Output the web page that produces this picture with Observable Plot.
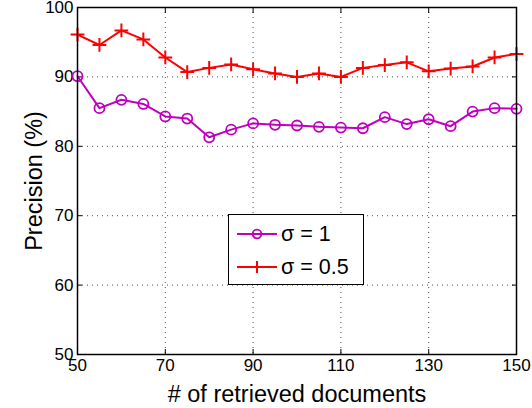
<!DOCTYPE html>
<html>
<head>
<meta charset="utf-8">
<script src="https://cdn.jsdelivr.net/npm/d3@7"></script>
<script src="https://cdn.jsdelivr.net/npm/@observablehq/plot@0.6"></script>
<style>
  html, body { margin: 0; padding: 0; background: #fff; }
  #wrap { position: relative; width: 532px; height: 408px; font-family: "Liberation Sans", Arial, sans-serif; }
  #legend { position: absolute; left: 228px; top: 214px; width: 136px; height: 71px; border: 1.5px solid #000; background: #fff; box-sizing: border-box; }
  .row { position: absolute; left: 0; height: 30px; display: flex; align-items: center; }
  .row span { font-size: 21.5px; color: #000; margin-left: 3px; white-space: nowrap; }
</style>
</head>
<body>
<div id="wrap"></div>
<script>
const docs = [50, 55, 60, 65, 70, 75, 80, 85, 90, 95, 100, 105, 110, 115, 120, 125, 130, 135, 140, 145, 150];
const sigma1 = [90.1, 85.5, 86.7, 86.1, 84.3, 84.0, 81.3, 82.4, 83.3, 83.1, 83.0, 82.8, 82.7, 82.6, 84.2, 83.2, 83.9, 82.9, 85.0, 85.5, 85.4];
const sigma05 = [96.1, 94.6, 96.7, 95.4, 92.8, 90.7, 91.3, 91.8, 91.1, 90.5, 90.0, 90.5, 90.0, 91.3, 91.7, 92.1, 90.8, 91.2, 91.5, 92.8, 93.3];
const xTicks = [50, 70, 90, 110, 130, 150];
const yTicks = [50, 60, 70, 80, 90, 100];
const seriesNames = ["σ = 1", "σ = 0.5"];
const colors = ["#bf00bf", "#ff0000"];

const d1 = docs.map((x, i) => ({x, y: sigma1[i]}));
const d2 = docs.map((x, i) => ({x, y: sigma05[i]}));

const chart = Plot.plot({
  width: 532,
  height: 408,
  marginLeft: 77,
  marginRight: 16,
  marginTop: 7,
  marginBottom: 54,
  style: {fontFamily: "'Liberation Sans', Arial, sans-serif", fontSize: "17px", color: "#000", background: "#fff"},
  x: {domain: [50, 150], ticks: xTicks},
  y: {domain: [50, 100], ticks: yTicks},
  marks: [
    Plot.gridX(xTicks.slice(1, -1), {stroke: "#000", strokeOpacity: 0.7, strokeDasharray: "1,4", strokeWidth: 1}),
    Plot.gridY(yTicks.slice(1, -1), {stroke: "#000", strokeOpacity: 0.7, strokeDasharray: "1,4", strokeWidth: 1}),
    Plot.axisX(xTicks, {anchor: "bottom", tickSize: 0, tickPadding: 4, fontSize: 17, label: "# of retrieved documents", labelAnchor: "center", labelArrow: "none", labelOffset: 47}),
    Plot.axisX(xTicks, {anchor: "bottom", tickSize: -5, text: null, label: null}),
    Plot.axisX(xTicks, {anchor: "top", tickSize: -5, text: null, label: null}),
    Plot.axisY(yTicks, {anchor: "left", tickSize: 0, tickPadding: 4, fontSize: 17, label: "Precision (%)", labelAnchor: "center", labelArrow: "none", labelOffset: 52}),
    Plot.axisY(yTicks, {anchor: "left", tickSize: -5, text: null, label: null}),
    Plot.axisY(yTicks, {anchor: "right", tickSize: -5, text: null, label: null}),
    Plot.line(d2, {x: "x", y: "y", stroke: colors[1], strokeWidth: 2}),
    Plot.dot(d2, {x: "x", y: "y", symbol: "plus", r: 4.5, stroke: colors[1], strokeWidth: 2}),
    Plot.line(d1, {x: "x", y: "y", stroke: colors[0], strokeWidth: 2}),
    Plot.dot(d1, {x: "x", y: "y", symbol: "circle", r: 5, stroke: colors[0], strokeWidth: 1.8, fill: "none"}),
    Plot.frame({stroke: "#000", strokeWidth: 1.5})
  ]
});

// enlarge axis labels
chart.querySelectorAll("g[aria-label='x-axis label'] text").forEach(t => t.setAttribute("font-size", "23.5"));
chart.querySelectorAll("g[aria-label='y-axis label'] text").forEach(t => t.setAttribute("font-size", "23.5"));

const wrap = document.getElementById("wrap");
wrap.appendChild(chart);

// Legend overlay
const legend = document.createElement("div");
legend.id = "legend";
seriesNames.forEach((name, i) => {
  const row = document.createElement("div");
  row.className = "row";
  row.style.top = (i === 0 ? 4 : 37) + "px";
  row.style.left = "7px";
  const svg = d3.create("svg").attr("width", 42).attr("height", 30);
  svg.append("line").attr("x1", 1).attr("x2", 41).attr("y1", 15).attr("y2", 15).attr("stroke", colors[i]).attr("stroke-width", 2);
  const sym = d3.symbol(i === 0 ? d3.symbolCircle : d3.symbolPlus, i === 0 ? 60 : 50);
  svg.append("path").attr("d", sym()).attr("transform", "translate(21,15)").attr("fill", "none").attr("stroke", colors[i]).attr("stroke-width", i === 0 ? 1.8 : 2);
  row.appendChild(svg.node());
  const sp = document.createElement("span");
  sp.textContent = name;
  row.appendChild(sp);
  legend.appendChild(row);
});
wrap.appendChild(legend);
</script>
</body>
</html>
